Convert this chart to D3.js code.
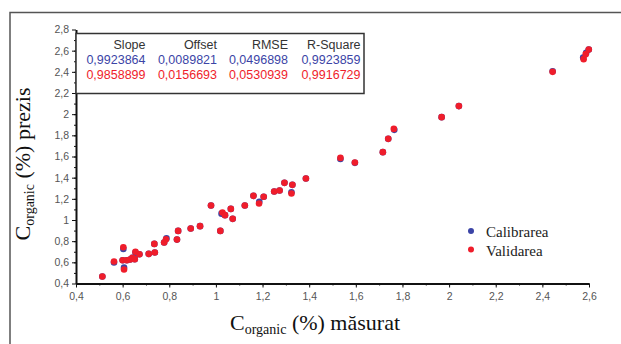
<!DOCTYPE html>
<html>
<head>
<meta charset="utf-8">
<script src="https://d3js.org/d3.v7.min.js"></script>
<style>
  body { margin: 0; background: #fff; }
  .tick text { font-family: "Liberation Sans", Arial, sans-serif; font-size: 10.5px; fill: #555; }
  .axis path.domain { stroke: #111; stroke-width: 2; }
  .axis .tick line { stroke: #111; }
</style>
</head>
<body>
<div id="chart"></div>
<script>
// measured vs predicted organic carbon (%)
var valX = [0.513, 0.563, 0.603, 0.606, 0.600, 0.618, 0.632, 0.642, 0.652, 0.655, 0.672, 0.712, 0.738, 0.736,
            0.778, 0.786, 0.833, 0.838, 0.892, 0.932, 0.979, 1.019, 1.028, 1.039, 1.064, 1.072, 1.124, 1.161,
            1.185, 1.205, 1.250, 1.273, 1.294, 1.328, 1.324, 1.386, 1.534, 1.596, 1.716, 1.739, 1.763, 1.968,
            2.042, 2.444, 2.577, 2.586, 2.599];
var valY = [0.466, 0.608, 0.743, 0.532, 0.620, 0.620, 0.627, 0.642, 0.630, 0.700, 0.677, 0.680, 0.693, 0.774,
            0.787, 0.818, 0.815, 0.897, 0.920, 0.942, 1.137, 0.897, 1.071, 1.046, 1.105, 1.011, 1.137, 1.228,
            1.156, 1.219, 1.270, 1.279, 1.351, 1.332, 1.250, 1.392, 1.587, 1.544, 1.641, 1.767, 1.861, 1.972,
            2.076, 2.400, 2.520, 2.567, 2.610];
var calX = [0.513, 0.563, 0.603, 0.606, 0.600, 0.618, 0.632, 0.642, 0.652, 0.655, 0.672, 0.712, 0.738, 0.736,
            0.778, 0.788, 0.833, 0.838, 0.892, 0.932, 0.979, 1.019, 1.024, 1.039, 1.064, 1.072, 1.124, 1.161,
            1.186, 1.205, 1.250, 1.273, 1.294, 1.328, 1.324, 1.386, 1.534, 1.596, 1.716, 1.739, 1.765, 1.968,
            2.042, 2.444, 2.575, 2.588, 2.599];
var calY = [0.466, 0.598, 0.727, 0.550, 0.620, 0.620, 0.627, 0.642, 0.630, 0.692, 0.677, 0.680, 0.693, 0.774,
            0.787, 0.826, 0.815, 0.897, 0.920, 0.942, 1.137, 0.897, 1.060, 1.046, 1.105, 1.011, 1.137, 1.228,
            1.172, 1.219, 1.270, 1.279, 1.351, 1.332, 1.262, 1.392, 1.576, 1.540, 1.641, 1.767, 1.852, 1.972,
            2.076, 2.406, 2.535, 2.580, 2.610];

var xTicks = [0.4, 0.6, 0.8, 1, 1.2, 1.4, 1.6, 1.8, 2, 2.2, 2.4, 2.6];
var yTicks = [0.4, 0.6, 0.8, 1, 1.2, 1.4, 1.6, 1.8, 2, 2.2, 2.4, 2.6, 2.8];

var statHeads = ["Slope", "Offset", "RMSE", "R-Square"];
var statCal = ["0,9923864", "0,0089821", "0,0496898", "0,9923859"];
var statVal = ["0,9858899", "0,0156693", "0,0530939", "0,9916729"];
var seriesNames = ["Calibrarea", "Validarea"];

var blue = "#3b44a6", red = "#ef1d2b";
var W = 621, H = 344;

var svg = d3.select("#chart").append("svg")
  .attr("width", W)
  .attr("height", H);

// outer frame (only top and left show)
svg.append("path")
  .attr("d", "M10,344 L10,12.5 L621,12.5")
  .attr("fill", "none")
  .attr("stroke", "#555")
  .attr("stroke-width", 1.5);

var x = d3.scaleLinear().domain([0.4, 2.6]).range([76, 589]);
var y = d3.scaleLinear().domain([0.4, 2.8]).range([283.5, 29.5]);

var fmt = function(d) { return String(d).replace(".", ","); };
var minor = d3.range(5, 26).map(function(i) { return i / 10; });
var minorY = d3.range(5, 28).map(function(i) { return i / 10; });

// minor ticks
svg.append("g")
  .attr("transform", "translate(0," + y(0.4) + ")")
  .call(d3.axisBottom(x).tickValues(minor).tickSize(2).tickFormat(""))
  .call(function(g) { g.select(".domain").remove(); g.selectAll("line").attr("stroke", "#111"); });
svg.append("g")
  .attr("transform", "translate(" + x(0.4) + ",0)")
  .call(d3.axisLeft(y).tickValues(minorY).tickSize(2).tickFormat(""))
  .call(function(g) { g.select(".domain").remove(); g.selectAll("line").attr("stroke", "#111"); });

svg.append("g")
  .attr("class", "axis")
  .attr("transform", "translate(0," + y(0.4) + ")")
  .call(d3.axisBottom(x).tickValues(xTicks).tickSize(4).tickSizeOuter(0).tickPadding(5).tickFormat(fmt));

svg.append("g")
  .attr("class", "axis")
  .attr("transform", "translate(" + x(0.4) + ",0)")
  .call(d3.axisLeft(y).tickValues(yTicks).tickSize(4).tickSizeOuter(0).tickPadding(3).tickFormat(fmt));

// points
svg.append("g").selectAll("circle")
  .data(calX).enter().append("circle")
  .attr("cx", function(d) { return x(d); })
  .attr("cy", function(d, i) { return y(calY[i]); })
  .attr("r", 3.3)
  .attr("fill", blue);

svg.append("g").selectAll("circle")
  .data(valX).enter().append("circle")
  .attr("cx", function(d) { return x(d); })
  .attr("cy", function(d, i) { return y(valY[i]); })
  .attr("r", 3.3)
  .attr("fill", red);

// statistics box
svg.append("rect")
  .attr("x", 76).attr("y", 33.5)
  .attr("width", 288).attr("height", 60)
  .attr("fill", "#fff")
  .attr("stroke", "#333")
  .attr("stroke-width", 1.5);

var colRight = [145.5, 217, 288, 360.5];
var rows = [[statHeads, "#333", 48.5], [statCal, blue, 63.5], [statVal, red, 78.5]];
rows.forEach(function(r) {
  svg.append("g").selectAll("text")
    .data(r[0]).enter().append("text")
    .attr("x", function(d, i) { return colRight[i]; })
    .attr("y", r[2])
    .attr("text-anchor", "end")
    .style("font-family", "'Liberation Sans', Arial, sans-serif")
    .style("font-size", "12.5px")
    .attr("fill", r[1])
    .text(function(d) { return d; });
});

// series legend
var leg = svg.append("g").selectAll("g")
  .data(seriesNames).enter().append("g")
  .attr("transform", function(d, i) { return "translate(471," + (231 + i * 18.5) + ")"; });
leg.append("circle").attr("r", 3).attr("fill", function(d, i) { return i ? red : blue; });
leg.append("text")
  .attr("x", 15).attr("y", 6)
  .style("font-family", "'Liberation Serif', 'Times New Roman', serif")
  .style("font-size", "15px")
  .attr("fill", "#222")
  .text(function(d) { return d; });

// axis titles
function axisTitle(sel, rest) {
  sel.style("font-family", "'Liberation Serif', 'Times New Roman', serif")
    .style("font-size", "22px")
    .attr("fill", "#111");
  sel.append("tspan").text("C");
  sel.append("tspan").attr("dy", 4).style("font-size", "14px").text("organic");
  sel.append("tspan").attr("dy", -4).text(" (%) " + rest);
}

svg.append("text")
  .attr("x", 315).attr("y", 330)
  .attr("text-anchor", "middle")
  .call(axisTitle, "măsurat");

svg.append("text")
  .attr("transform", "translate(30,164) rotate(-90)")
  .attr("text-anchor", "middle")
  .call(axisTitle, "prezis");
</script>
</body>
</html>
